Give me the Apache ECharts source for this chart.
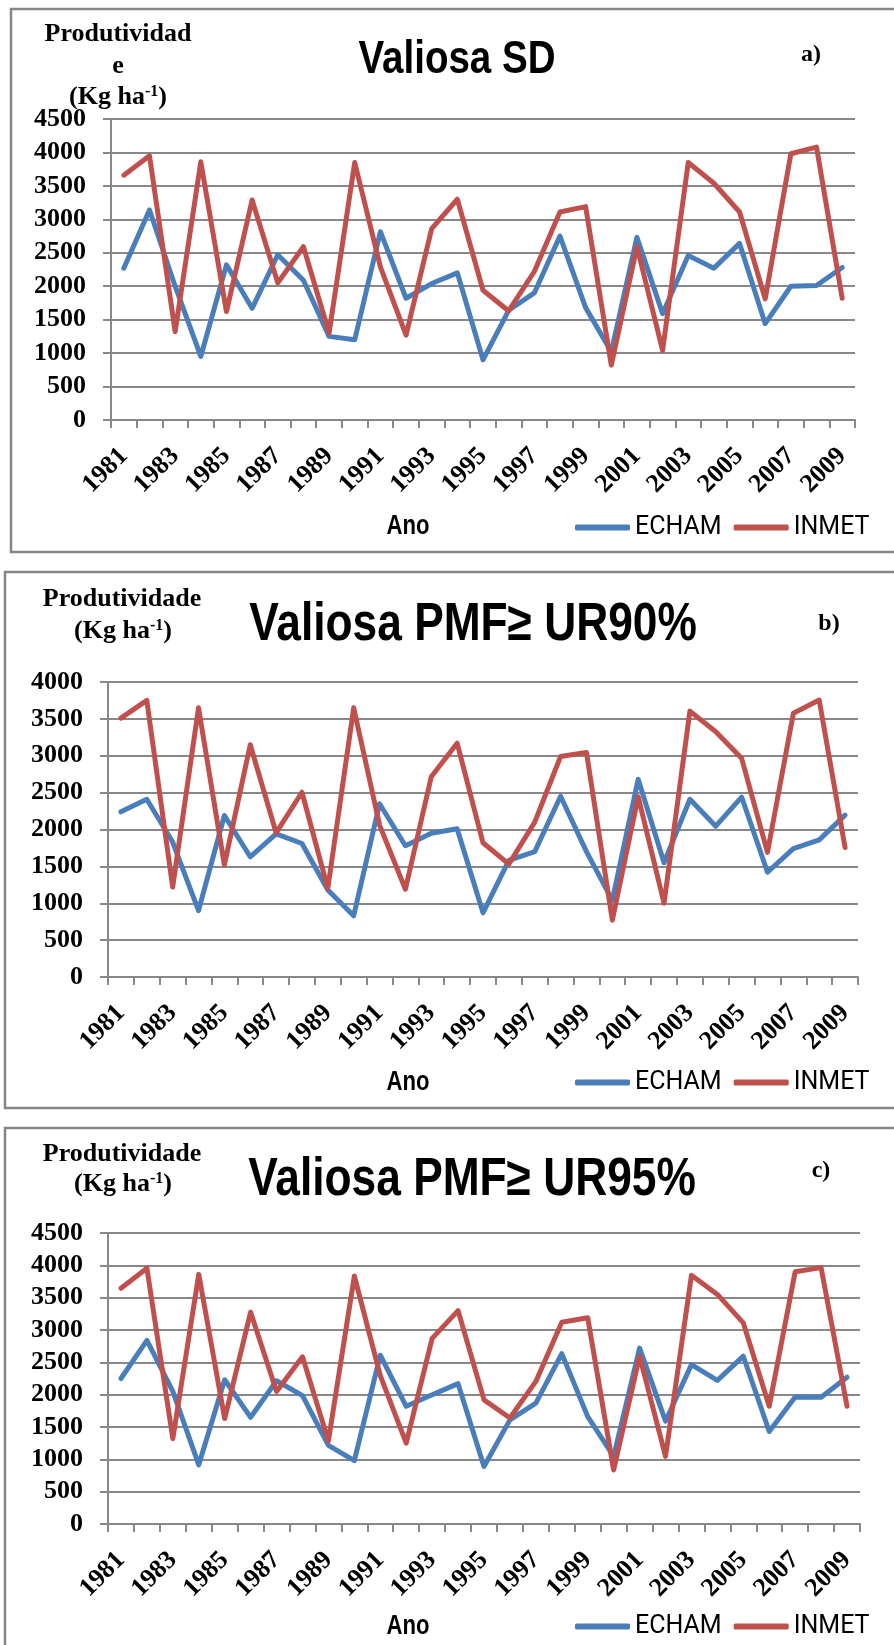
<!DOCTYPE html>
<html>
<head>
<meta charset="utf-8">
<script src="https://cdn.jsdelivr.net/npm/echarts@6/dist/echarts.min.js"></script>
<style>
  html, body { margin: 0; padding: 0; background: #fff; }
  #main { width: 894px; height: 1645px; }
</style>
</head>
<body>
<div id="main"></div>
<script>
// anos
var years = ['1981', '1982', '1983', '1984', '1985', '1986', '1987', '1988', '1989', '1990',
  '1991', '1992', '1993', '1994', '1995', '1996', '1997', '1998', '1999', '2000',
  '2001', '2002', '2003', '2004', '2005', '2006', '2007', '2008', '2009'];

// a) Valiosa SD
var echamSD = [2270, 3140, 2000, 950, 2320, 1670, 2470, 2090, 1250, 1200, 2815, 1820, 2040, 2200, 900,
  1640, 1900, 2750, 1680, 1020, 2730, 1590, 2460, 2270, 2640, 1440, 2000, 2010, 2280];
var inmetSD = [3660, 3950, 1320, 3860, 1620, 3290, 2050, 2590, 1300, 3850, 2290, 1270, 2860, 3300, 1940,
  1630, 2220, 3110, 3190, 820, 2590, 1040, 3850, 3540, 3110, 1810, 3980, 4080, 1820];

// b) Valiosa PMF >= UR90%
var echam90 = [2240, 2410, 1830, 900, 2190, 1630, 1940, 1810, 1180, 830, 2350, 1780, 1950, 2010, 870,
  1580, 1700, 2450, 1700, 1040, 2680, 1550, 2410, 2045, 2440, 1420, 1740, 1860, 2195];
var inmet90 = [3510, 3750, 1220, 3650, 1520, 3150, 1955, 2505, 1200, 3650, 2060, 1190, 2715, 3170, 1820,
  1530, 2100, 2990, 3045, 770, 2445, 1000, 3605, 3325, 2965, 1690, 3575, 3755, 1755];

// c) Valiosa PMF >= UR95%
var echam95 = [2250, 2840, 2050, 915, 2230, 1650, 2215, 1985, 1215, 980, 2610, 1820, 2000, 2170, 890,
  1610, 1870, 2635, 1660, 1045, 2720, 1590, 2465, 2220, 2595, 1430, 1965, 1960, 2270];
var inmet95 = [3645, 3955, 1320, 3860, 1630, 3275, 2050, 2585, 1285, 3835, 2295, 1250, 2870, 3300, 1920,
  1640, 2205, 3120, 3190, 835, 2595, 1045, 3845, 3550, 3110, 1820, 3900, 3965, 1820];

var yMax = [4500, 4000, 4500];

var serif = '"Liberation Serif", "Times New Roman", serif';
var sans = '"Liberation Sans", Arial, sans-serif';
var gray = '#888888';
var blue = '#4a7ebb';
var red = '#c0504d';

var panels = [
  { grid: { left: 111, top: 119, width: 744, height: 301 }, echam: echamSD, inmet: inmetSD },
  { grid: { left: 108, top: 682, width: 750, height: 295 }, echam: echam90, inmet: inmet90 },
  { grid: { left: 108, top: 1233, width: 752, height: 291 }, echam: echam95, inmet: inmet95 }
];

var chart = echarts.init(document.getElementById('main'), null, { renderer: 'canvas' });

var grids = [], xAxes = [], yAxes = [], series = [], legends = [];
panels.forEach(function (p, i) {
  grids.push(p.grid);
  xAxes.push({
    type: 'category',
    gridIndex: i,
    data: years,
    boundaryGap: true,
    axisLine: { lineStyle: { color: gray, width: 2 } },
    axisTick: { show: true, interval: 0, length: 8, lineStyle: { color: gray, width: 2 } },
    axisLabel: {
      interval: 1,
      rotate: 45,
      margin: 32,
      color: '#000',
      fontFamily: serif,
      fontWeight: 'bold',
      fontSize: 26
    },
    splitLine: { show: false }
  });
  yAxes.push({
    type: 'value',
    gridIndex: i,
    min: 0,
    max: yMax[i],
    interval: 500,
    axisLine: { show: true, lineStyle: { color: gray, width: 2 } },
    axisTick: { show: true, length: 8, lineStyle: { color: gray, width: 2 } },
    axisLabel: {
      margin: 25,
      color: '#000',
      fontFamily: serif,
      fontWeight: 'bold',
      fontSize: 26,
      formatter: function (v) { return String(v); }
    },
    splitLine: { show: true, lineStyle: { color: gray, width: 2 } }
  });
  series.push({
    name: 'ECHAM', type: 'line', xAxisIndex: i, yAxisIndex: i,
    data: p.echam, symbol: 'none', color: blue,
    lineStyle: { color: blue, width: 5, join: 'round', cap: 'round' }
  });
  series.push({
    name: 'INMET', type: 'line', xAxisIndex: i, yAxisIndex: i,
    data: p.inmet, symbol: 'none', color: red,
    lineStyle: { color: red, width: 5, join: 'round', cap: 'round' }
  });
});

var legendTop = [510, 1065, 1609];
legendTop.forEach(function (t) {
  legends.push({
    data: ['ECHAM', 'INMET'],
    left: 570,
    top: t,
    width: 400,
    icon: 'roundRect',
    itemWidth: 55,
    itemHeight: 6,
    itemGap: 12,
    selectedMode: false,
    textStyle: { fontFamily: 'Roboto', fontSize: 25, color: '#000' }
  });
});

// texto com largura comprimida (imita fonte condensada)
function txt(x, y, text, font, size, weight, sx) {
  return {
    type: 'text', x: x, y: y, silent: true, scaleX: sx || 1,
    style: {
      text: text, fill: '#000', align: 'center', verticalAlign: 'middle',
      fontFamily: font, fontSize: size, fontWeight: weight || 'bold'
    }
  };
}

function unit(x, y) {
  return {
    type: 'text', x: x, y: y, silent: true,
    style: {
      text: '{n|(Kg ha}{s|-1}{n|)}', align: 'center', verticalAlign: 'middle',
      rich: {
        n: { fontFamily: serif, fontSize: 26, fontWeight: 'bold', fill: '#000' },
        s: { fontFamily: serif, fontSize: 16, fontWeight: 'bold', fill: '#000', verticalAlign: 'top', padding: [0, 0, 10, 0] }
      }
    }
  };
}

function frame(x, y, w, h) {
  return {
    type: 'rect', silent: true,
    shape: { x: x, y: y, width: w, height: h },
    style: { fill: null, stroke: '#868686', lineWidth: 2.5 }
  };
}

var graphics = [
  frame(11, 9, 900, 543),
  frame(5, 572, 906, 536),
  frame(5, 1128, 906, 540),

  // a)
  txt(118, 34, 'Produtividad', serif, 26),
  txt(118, 66, 'e', serif, 26),
  unit(118, 97),
  txt(457, 60, 'Valiosa SD', sans, 47, 'bold', 0.82),
  txt(811, 55, 'a)', serif, 24),
  txt(408, 527, 'Ano', sans, 27, 'bold', 0.82),

  // b)
  txt(122, 599, 'Produtividade', serif, 26),
  unit(123, 631),
  txt(473, 625, 'Valiosa PMF\u2265 UR90%', sans, 54, 'bold', 0.82),
  txt(829, 624, 'b)', serif, 24),
  txt(408, 1083, 'Ano', sans, 27, 'bold', 0.82),

  // c)
  txt(122, 1154, 'Produtividade', serif, 26),
  unit(123, 1184),
  txt(472, 1180, 'Valiosa PMF\u2265 UR95%', sans, 54, 'bold', 0.82),
  txt(821, 1171, 'c)', serif, 24),
  txt(408, 1627, 'Ano', sans, 27, 'bold', 0.82)
];

chart.setOption({
  backgroundColor: '#fff',
  animation: false,
  grid: grids,
  xAxis: xAxes,
  yAxis: yAxes,
  legend: legends,
  series: series,
  graphic: graphics
});
</script>
</body>
</html>
